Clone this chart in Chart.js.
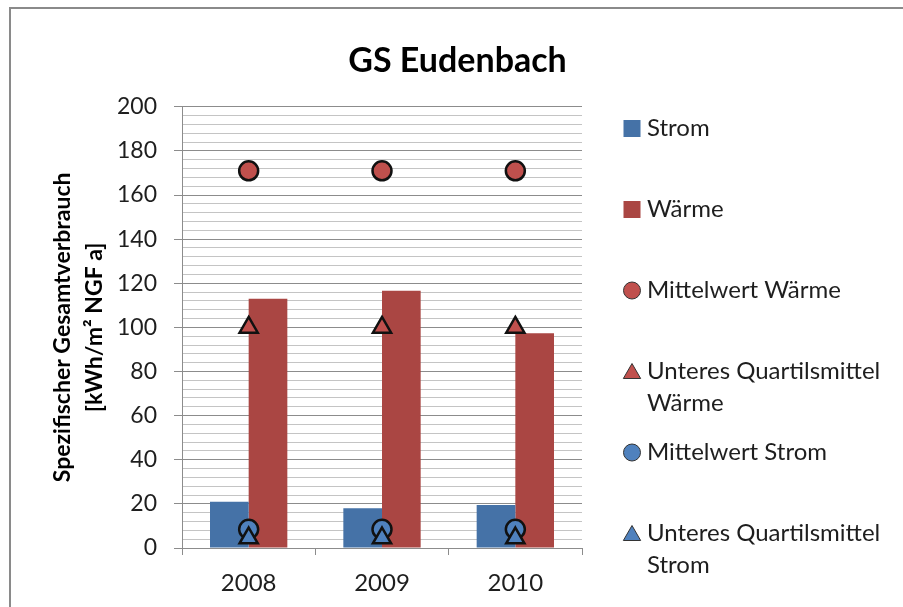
<!DOCTYPE html>
<html><head><meta charset="utf-8">
<script src="https://cdn.jsdelivr.net/npm/chart.js@4/dist/chart.umd.min.js"></script>
<style>html,body{margin:0;padding:0;background:#fff;overflow:hidden}canvas{display:block}</style>
</head><body>
<canvas id="c" width="903" height="607"></canvas>
<script>
// ---- data ----
const titleText = 'GS Eudenbach';
const yAxisTitle = ['Spezifischer Gesamtverbrauch', '[kWh/m² NGF a]'];
const years = ['2008', '2009', '2010'];
const strom = [21, 18, 19.5];
const waerme = [113, 116.6, 97.4];
const mittelwertWaerme = [171, 171, 171];
const quartilWaerme = [100, 100, 100];
const mittelwertStrom = [8.5, 8.5, 8.5];
const quartilStrom = [4.5, 4.5, 4.5];
const legendLines = [
  ['Strom'],
  ['Wärme'],
  ['Mittelwert Wärme'],
  ['Unteres Quartilsmittel', 'Wärme'],
  ['Mittelwert Strom'],
  ['Unteres Quartilsmittel', 'Strom']
];
const yMin = 0, yMax = 200, yMajorStep = 20, yMinorStep = 4;

const FONT = 'Lato';
const TXT = '#1e1e1e';
const GRID_MAJOR = '#8c8c8c';
const GRID_MINOR = '#c4c4c4';

const frame = {
  id: 'frame',
  beforeDraw(chart) {
    const c = chart.ctx;
    c.save();
    c.strokeStyle = '#8a8a8a';
    c.lineWidth = 2;
    c.strokeRect(10, 8, chart.width + 20, chart.height + 20);
    c.restore();
  }
};

const sideLegend = {
  id: 'sideLegend',
  afterDraw(chart) {
    const c = chart.ctx;
    const x0 = 632, tx = 647, y0 = 128.5, step = 81, lh = 32;
    c.save();
    c.font = '24px ' + FONT;
    c.textBaseline = 'middle';
    c.textAlign = 'left';
    chart.data.datasets.forEach((ds, i) => {
      const y = y0 + i * step;
      if (ds.type === 'bar' || !ds.type) {
        c.fillStyle = ds.backgroundColor;
        c.fillRect(x0 - 8.5, y - 8.5, 17, 17);
      } else {
        c.fillStyle = ds.backgroundColor;
        c.strokeStyle = '#333';
        c.lineWidth = 1;
        const r = ds.pointStyle === 'triangle' ? 10 : 8.5;
        const cy = ds.pointStyle === 'triangle' ? y + 2 : y;
        Chart.helpers.drawPoint(c, {pointStyle: ds.pointStyle, radius: r, rotation: 0, borderWidth: 1}, x0, cy);
      }
      c.fillStyle = TXT;
      legendLines[i].forEach((t, k) => c.fillText(t, tx, y + k * lh));
    });
    c.restore();
  }
};

const markerDs = (label, data, style, fill, r, order) => ({
  type: 'line', label, data, showLine: false, pointStyle: style,
  pointRadius: r, pointHoverRadius: r, pointBorderWidth: 2.5, pointBorderColor: '#111',
  backgroundColor: fill, borderColor: '#111', pointBackgroundColor: fill, order
});

new Chart(document.getElementById('c'), {
  data: {
    labels: years,
    datasets: [
      {type: 'bar', label: legendLines[0].join(' '), data: strom, backgroundColor: '#4572A7', order: 3,
       categoryPercentage: 0.58, barPercentage: 1.0},
      {type: 'bar', label: legendLines[1].join(' '), data: waerme, backgroundColor: '#AA4643', order: 3,
       categoryPercentage: 0.58, barPercentage: 1.0},
      markerDs(legendLines[2].join(' '), mittelwertWaerme, 'circle', '#C0504D', 9.5, 2),
      markerDs(legendLines[3].join(' '), quartilWaerme, 'triangle', '#C0504D', 10.5, 1),
      markerDs(legendLines[4].join(' '), mittelwertStrom, 'circle', '#4F81BD', 9.5, 2),
      markerDs(legendLines[5].join(' '), quartilStrom, 'triangle', '#4F81BD', 10.5, 1)
    ]
  },
  options: {
    responsive: false,
    animation: false,
    layout: {padding: {left: 12, top: 0, right: 0, bottom: 0}},
    plugins: {
      legend: {display: false},
      tooltip: {enabled: false},
      title: {
        display: true, text: titleText, color: '#000',
        font: {family: FONT, size: 34, weight: 'bold', lineHeight: 1.2},
        padding: {top: 41, bottom: 25}
      }
    },
    scales: {
      x: {
        afterFit(s) { s.height = 59; },
        grid: {display: true, drawOnChartArea: false, offset: true, tickLength: 7, tickColor: GRID_MAJOR},
        border: {color: GRID_MAJOR, width: 1},
        ticks: {padding: 14, color: TXT, font: {family: FONT, size: 24}}
      },
      y: {
        min: yMin, max: yMax,
        afterFit(s) { s.width = 170; },
        ticks: {
          stepSize: yMinorStep, autoSkip: false, padding: 17, color: TXT,
          font: {family: FONT, size: 23},
          callback: v => (v % yMajorStep === 0 ? String(v) : '')
        },
        grid: {
          color: ctx => (ctx.tick && ctx.tick.value % yMajorStep === 0 ? GRID_MAJOR : GRID_MINOR),
          tickColor: ctx => (ctx.tick && ctx.tick.value % yMajorStep === 0 ? GRID_MAJOR : 'rgba(0,0,0,0)'),
          tickLength: 8, lineWidth: 1
        },
        border: {color: GRID_MAJOR, width: 1},
        title: {
          display: true, text: yAxisTitle, color: '#000',
          font: {family: FONT, size: 23, weight: 'bold', lineHeight: 1.4},
          padding: {top: 34, bottom: 0}
        }
      },
      yR: {
        type: 'linear', position: 'right', display: true,
        afterFit(s) { s.width = 321; },
        grid: {display: false}, border: {display: false}, ticks: {display: false}
      }
    }
  },
  plugins: [frame, sideLegend]
});
</script>
</body></html>
